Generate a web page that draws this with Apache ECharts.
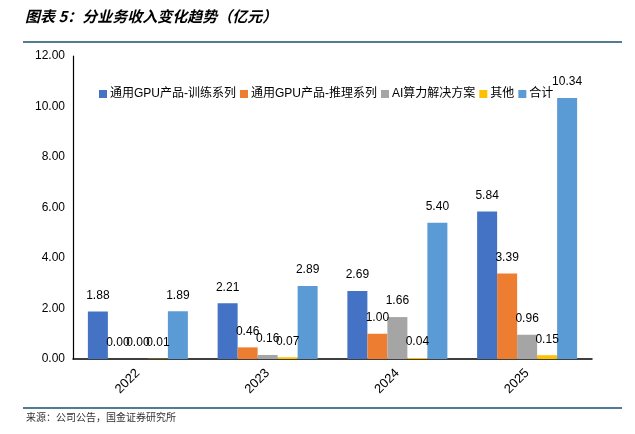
<!DOCTYPE html>
<html>
<head>
<meta charset="utf-8">
<script src="https://cdn.jsdelivr.net/npm/echarts@6/dist/echarts.min.js"></script>
<style>
html,body{margin:0;padding:0;background:#fff;}
#chart{width:635px;height:434px;}
</style>
</head>
<body>
<div id="chart"></div>
<script>
var years = ['2022', '2023', '2024', '2025'];
var seriesNames = ['通用GPU产品-训练系列', '通用GPU产品-推理系列', 'AI算力解决方案', '其他', '合计'];
var training = [1.88, 2.21, 2.69, 5.84];
var inference = [0.00, 0.46, 1.00, 3.39];
var aiSolution = [0.00, 0.16, 1.66, 0.96];
var others = [0.01, 0.07, 0.04, 0.15];
var total = [1.89, 2.89, 5.40, 10.34];
var colors = ['#4472C4', '#ED7D31', '#A5A5A5', '#FFC000', '#5B9BD5'];

var allData = [training, inference, aiSolution, others, total];
var font = 'Liberation Sans, Arial, "Noto Sans CJK SC", sans-serif';

var series = allData.map(function (d, i) {
     return {
          name: seriesNames[i],
          type: 'bar',
          data: d,
          barWidth: 20,
          barGap: '0%',
          itemStyle: { color: colors[i] },
          label: {
               show: true,
               position: 'top',
               distance: 10,
               color: '#000',
               fontSize: 12,
               fontFamily: font,
               formatter: function (p) { return p.value.toFixed(2); }
          }
     };
});

var myChart = echarts.init(document.getElementById('chart'));
myChart.setOption({
     backgroundColor: '#fff',
     animation: false,
     color: colors,
     textStyle: { fontFamily: font },
     legend: {
          data: seriesNames,
          left: 94,
          top: 83,
          itemWidth: 8,
          itemHeight: 8,
          itemGap: 4,
          icon: 'rect',
          textStyle: { fontSize: 12, color: '#000', fontFamily: font, padding: [0, 0, 0, -2] }
     },
     grid: { left: 73, right: 43, top: 56, bottom: 75 },
     xAxis: {
          type: 'category',
          data: years,
          axisLine: { lineStyle: { color: '#000', width: 1.5 } },
          axisTick: { show: false },
          axisLabel: { rotate: 45, fontSize: 13, color: '#000', margin: 12, fontFamily: font }
     },
     yAxis: {
          type: 'value',
          min: 0,
          max: 12,
          interval: 2,
          splitLine: { show: false },
          axisLine: { show: true, lineStyle: { color: '#000', width: 1.2 } },
          axisTick: { show: false },
          axisLabel: {
               fontSize: 12, color: '#000', margin: 8, fontFamily: font,
               formatter: function (v) { return v.toFixed(2); }
          }
     },
     graphic: [
          {
               type: 'text', left: 25, top: 9,
               style: {
                    text: '图表 5：分业务收入变化趋势（亿元）',
                    font: 'italic bold 15px "Noto Sans CJK SC", sans-serif',
                    fill: '#000'
               }
          },
          {
               type: 'line', shape: { x1: 23, y1: 42, x2: 622, y2: 42 },
               style: { stroke: '#1B4F72', lineWidth: 1.5 }
          },
          {
               type: 'line', shape: { x1: 23, y1: 408, x2: 622, y2: 408 },
               style: { stroke: '#1B4F72', lineWidth: 1.5 }
          },
          {
               type: 'text', left: 26, top: 412,
               style: {
                    text: '来源：公司公告，国金证券研究所',
                    font: '10px "Noto Sans CJK SC", sans-serif',
                    fill: '#333'
               }
          }
     ],
     series: series
});
</script>
</body>
</html>
